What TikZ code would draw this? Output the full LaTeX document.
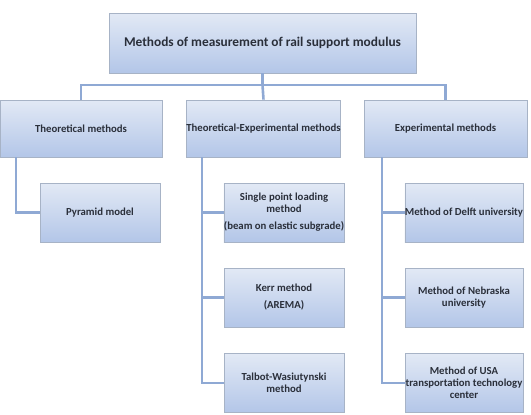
\documentclass[tikz,border=0pt]{standalone}
\usepackage{fontspec}
\setmainfont{Carlito}
\begin{document}
\begin{tikzpicture}[x=1bp,y=-1bp,
  box/.style={draw=boxline, line width=0.8bp, top color=boxtop, bottom color=boxbot,
    inner sep=0bp, align=center, font=\bfseries\fontsize{10.8}{12}\selectfont, text=txt},
  link/.style={draw=linkc, line width=2.6bp}]
\definecolor{boxtop}{HTML}{E2E9F5}
\definecolor{boxbot}{HTML}{B3C6E8}
\definecolor{boxline}{HTML}{A7B3C6}
\definecolor{linkc}{HTML}{8FA9D4}
\definecolor{txt}{HTML}{2A2F3A}
\useasboundingbox (0,0) rectangle (531,414);
% top
\node[box, minimum width=307bp, minimum height=60bp, font=\bfseries\fontsize{13.4}{15}\selectfont] (root) at (262.5,43) {Methods of measurement of rail support modulus};
% level 1
\node[box, minimum width=162bp, minimum height=57bp] (theo) at (81,128.5) {Theoretical methods};
\node[box, minimum width=153bp, minimum height=57bp] (texp) at (263.5,128.5) {Theoretical-Experimental methods};
\node[box, minimum width=163bp, minimum height=57bp] (exp) at (445.5,128.5) {Experimental methods};
% level 2
\node[box, minimum width=120bp, minimum height=59bp] (pyr) at (100,212.5) {Pyramid model};
\node[box, minimum width=120bp, minimum height=59bp] (spl) at (284,212.5) {Single point loading\\method\\[5bp](beam on elastic subgrade)};
\node[box, minimum width=120bp, minimum height=59bp] (kerr) at (284,297.5) {Kerr method\\[5bp](AREMA)};
\node[box, minimum width=120bp, minimum height=59bp] (talb) at (284,383) {Talbot-Wasiutynski\\method};
\node[box, minimum width=118bp, minimum height=59bp] (delft) at (464,212.5) {Method of Delft university};
\node[box, minimum width=118bp, minimum height=59bp] (nebr) at (464,297.5) {Method of Nebraska\\university};
\node[box, minimum width=118bp, minimum height=59bp] (usa) at (464,383) {Method of USA\\transportation technology\\center};
% connectors
\coordinate (bar) at (262.5,85);
\draw[link] (root.south) -- (bar);
\draw[link] (theo.north) |- (bar) -| (exp.north);
\draw[link] (bar) -- (texp.north);
\coordinate (lt) at (16,157);
\coordinate (mt) at (202,157);
\coordinate (rt) at (382,157);
\draw[link] (lt) |- (pyr.west);
\draw[link] (mt) |- (talb.west);
\draw[link] (mt |- spl.west) -- (spl.west);
\draw[link] (mt |- kerr.west) -- (kerr.west);
\draw[link] (rt) |- (usa.west);
\draw[link] (rt |- delft.west) -- (delft.west);
\draw[link] (rt |- nebr.west) -- (nebr.west);
\end{tikzpicture}
\end{document}
